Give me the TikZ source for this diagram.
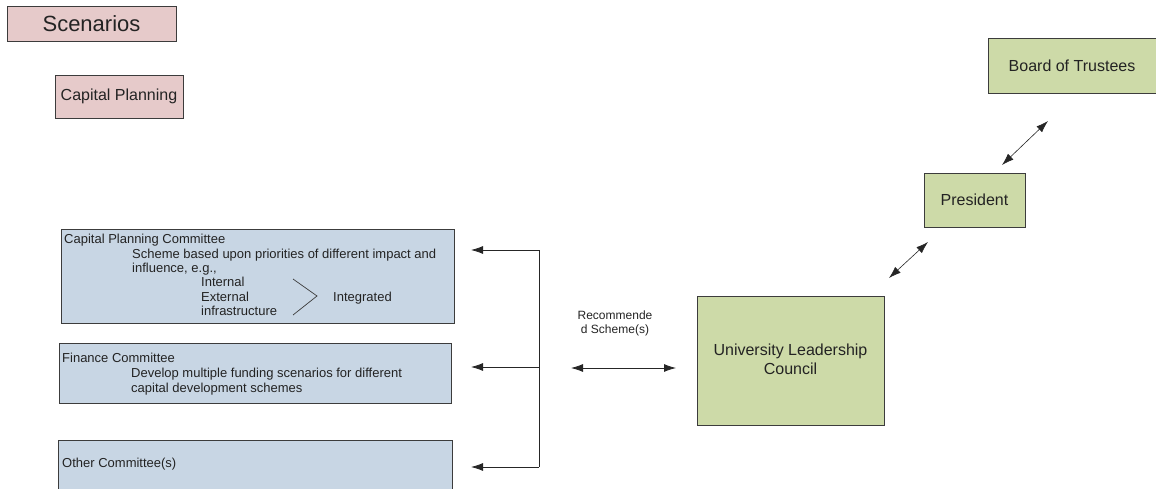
\documentclass[tikz,border=0pt]{standalone}
\usepackage{fontspec}
\setmainfont{Liberation Sans}
\usetikzlibrary{arrows.meta}
\definecolor{pinkfill}{RGB}{230,202,202}
\definecolor{bluefill}{RGB}{200,214,228}
\definecolor{greenfill}{RGB}{205,218,168}
\definecolor{edge}{RGB}{60,60,60}
\definecolor{ink}{RGB}{35,35,35}
\tikzset{
  box/.style={draw=edge, line width=0.9pt},
  pinkbox/.style={box, fill=pinkfill},
  bluebox/.style={box, fill=bluefill},
  greenbox/.style={box, fill=greenfill},
  txt/.style={inner sep=0pt, text=ink, font=\fontsize{13}{15}\selectfont},
  bigtxt/.style={inner sep=0pt, text=ink, font=\fontsize{16}{19}\selectfont, align=center},
  conn/.style={draw=black!85, line width=0.8pt},
  tip/.style={-{Latex[length=12pt,width=8pt]}},
  dtip/.style={{Latex[length=12pt,width=8pt]}-{Latex[length=12pt,width=8pt]}},
}
\begin{document}
\begin{tikzpicture}[x=1pt,y=-1pt]
\useasboundingbox (0,0) rectangle (1156,489);

% title tags
\draw[pinkbox] (7,6) rectangle (176,41);
\node[bigtxt, font=\fontsize{22}{26}\selectfont] (scen) at (91.5,23.5) {Scenarios};
\draw[pinkbox] (55,75) rectangle (183,118);
\node[bigtxt] (cap) at (119,96.5) {Capital Planning};

% committees
\draw[bluebox] (61,229) rectangle (454,323);
\node[txt, anchor=base west] (cpc) at (64,243.5) {Capital Planning Committee};
\node[txt, anchor=base west] (cpc1) at (132,258.5) {Scheme based upon priorities of different impact and};
\node[txt, anchor=base west] (cpc2) at (132,272.5) {influence, e.g.,};
\node[txt, anchor=base west] (int) at (201,286.5) {Internal};
\node[txt, anchor=base west] (ext) at (201,301) {External};
\node[txt, anchor=base west] (infra) at (201,315) {infrastructure};
\draw[edge, line width=0.7pt] (293,279) -- (317,296) -- (293,315);
\node[txt, anchor=base west] (integ) at (333,301) {Integrated};

\draw[bluebox] (59,343) rectangle (451,403);
\node[txt, anchor=base west] (fin) at (62,362.5) {Finance Committee};
\node[txt, anchor=base west] (fin1) at (131,377.5) {Develop multiple funding scenarios for different};
\node[txt, anchor=base west] (fin2) at (131,392.5) {capital development schemes};

\draw[bluebox] (58,440) rectangle (452,490);
\node[txt, anchor=base west] (oth) at (62,467.5) {Other Committee(s)};

% distribution from the junction line to the committees
\coordinate (jt) at (539,250);
\coordinate (jm) at (539,367);
\coordinate (jb) at (539,467);
\coordinate (at) at (471,250);
\coordinate (am) at (471,367);
\coordinate (ab) at (471,467);
\draw[conn] (jt) -- (jb);
\draw[conn, tip] (jt) -- (at);
\draw[conn, tip] (jm) -- (am);
\draw[conn, tip] (jb) -- (ab);

% leadership chain
\draw[greenbox] (697,296) rectangle (884,425);
\node[bigtxt] (ulc) at (790.5,359) {University Leadership\\Council};
\draw[greenbox] (924,173) rectangle (1025,227);
\node[bigtxt] (pres) at (974.5,200) {President};
\draw[greenbox] (988,38) rectangle (1160,93);
\node[bigtxt] (bot) at (1072,65.5) {Board of Trustees};

% recommended schemes exchange
\node[txt, font=\fontsize{12}{14}\selectfont, align=center] (rec) at (615,323) {Recommende\\d Scheme(s)};
\coordinate (rl) at (571,368);
\coordinate (rr) at (676,368);
\draw[conn, dtip] (rl) -- (rr);

\coordinate (d1a) at (889,278);
\coordinate (d1b) at (928,242);
\draw[conn, dtip, line width=0.6pt] (d1a) -- (d1b);
\coordinate (d2a) at (1002,165);
\coordinate (d2b) at (1048,121);
\draw[conn, dtip, line width=0.6pt] (d2a) -- (d2b);
\end{tikzpicture}
\end{document}
